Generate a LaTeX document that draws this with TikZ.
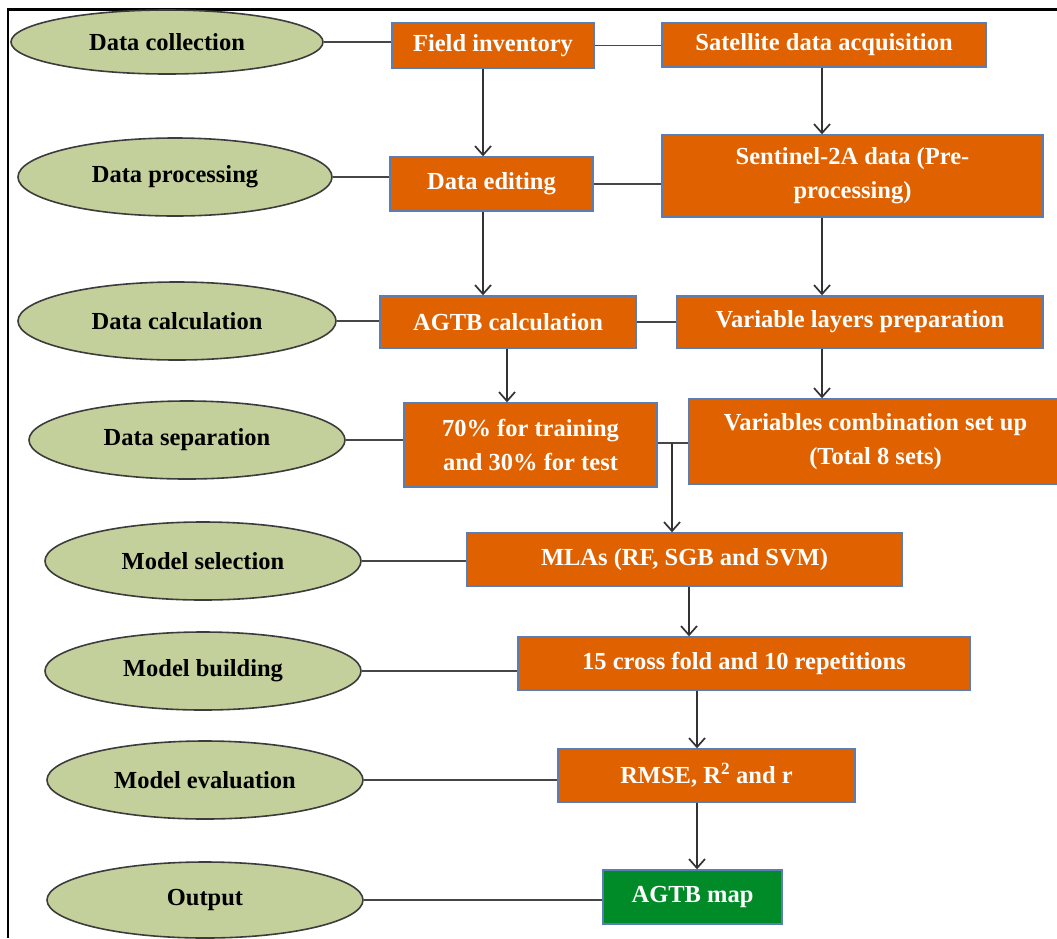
\documentclass[tikz,border=0pt]{standalone}
\usepackage{fontspec}
\setmainfont{Liberation Serif}
\usetikzlibrary{shapes.geometric,arrows.meta,calc}
\definecolor{boxorange}{RGB}{224,97,0}
\definecolor{boxborder}{RGB}{90,125,180}
\definecolor{ellfill}{RGB}{196,208,155}
\definecolor{ellborder}{RGB}{60,60,60}
\definecolor{boxgreen}{RGB}{0,138,40}
\definecolor{linegray}{RGB}{70,70,70}
\tikzset{
  stage/.style={ellipse, draw=ellborder, line width=1.6pt, fill=ellfill, inner sep=0pt,
    font=\bfseries\fontsize{24.5}{30}\selectfont, text=black},
  procbox/.style={rectangle, draw=boxborder, line width=1.4pt, fill=boxorange, inner sep=0pt,
    font=\bfseries\fontsize{24.5}{34}\selectfont, text=white, align=center},
  outbox/.style={procbox, fill=boxgreen},
  link/.style={draw=linegray, line width=1.7pt},
  arr/.style={draw=black!80, line width=1.7pt, -{Straight Barb[length=9pt,width=16pt,line width=1.7pt]}}
}
\begin{document}
\begin{tikzpicture}[x=1pt,y=-1pt]
\useasboundingbox (0,0) rectangle (1057,938);
% frame (top and left edges visible)
\draw[line width=2.2pt, black] (8,938) -- (8,9.5) -- (1057,9.5);

% stage ellipses
\node[stage, minimum width=312pt, minimum height=64pt] (E1) at (167,42) {Data collection};
\node[stage, minimum width=314pt, minimum height=78pt] (E2) at (175,177) {Data processing};
\node[stage, minimum width=318pt, minimum height=78pt] (E3) at (177,321) {Data calculation};
\node[stage, minimum width=316pt, minimum height=78pt] (E4) at (187,440) {Data separation};
\node[stage, minimum width=316pt, minimum height=78pt] (E5) at (203,561) {Model selection};
\node[stage, minimum width=316pt, minimum height=78pt] (E6) at (203,671) {Model building};
\node[stage, minimum width=316pt, minimum height=78pt] (E7) at (205,780) {Model evaluation};
\node[stage, minimum width=316pt, minimum height=76pt] (E8) at (205,900) {Output};

% process boxes
\node[procbox, minimum width=202pt, minimum height=45pt] (B1) at (493,45.5) {Field inventory};
\node[procbox, minimum width=324pt, minimum height=44pt] (B2) at (824,45) {Satellite data acquisition};
\node[procbox, minimum width=203pt, minimum height=54pt] (B3) at (491.5,184) {Data editing};
\node[procbox, minimum width=381pt, minimum height=82pt] (B4) at (852.5,176) {Sentinel-2A data (Pre-\\processing)};
\node[procbox, minimum width=256pt, minimum height=52pt] (B5) at (508,322) {AGTB calculation};
\node[procbox, minimum width=366pt, minimum height=52pt] (B6) at (860,322) {Variable layers preparation};
\node[procbox, minimum width=253pt, minimum height=84pt] (B7) at (530.5,445) {70\% for training\\and 30\% for test};
\node[procbox, minimum width=373pt, minimum height=85pt] (B8) at (875.5,441.5) {Variables combination set up\\(Total 8 sets)};
\node[procbox, minimum width=435pt, minimum height=53pt] (B9) at (684.5,559.5) {MLAs (RF, SGB and SVM)};
\node[procbox, minimum width=452pt, minimum height=53pt] (B10) at (744,663.5) {15 cross fold and 10 repetitions};
\node[procbox, minimum width=297pt, minimum height=53pt] (B11) at (706.5,775.5) {RMSE, R\textsuperscript{2} and r};
\node[outbox, minimum width=179pt, minimum height=54pt] (B12) at (692.5,897) {AGTB map};

% stage-to-box links
\draw[link] (E1.east) -- (E1.east -| B1.west);
\draw[link] (E2.east) -- (E2.east -| B3.west);
\draw[link] (E3.east) -- (E3.east -| B5.west);
\draw[link] (E4.east) -- (E4.east -| B7.west);
\draw[link] (E5.east) -- (E5.east -| B9.west);
\draw[link] (E6.east) -- (E6.east -| B10.west);
\draw[link] (E7.east) -- (E7.east -| B11.west);
\draw[link] (E8.east) -- (E8.east -| B12.west);

% box-to-box links
\draw[link] (B1.east) -- (B1.east -| B2.west);
\draw[link] (B3.east) -- (B3.east -| B4.west);
\draw[link] (B5.east) -- (B5.east -| B6.west);
\coordinate (J) at (672,443);
\draw[link] (B7.east |- J) -- (B8.west |- J);

% arrows
\coordinate (xL1) at (483,0);
\coordinate (xR) at (822,0);
\coordinate (xL2) at (507,0);
\coordinate (xM1) at (689,0);
\coordinate (xM2) at (697,0);
\draw[arr] (B1.south -| xL1) -- (B3.north -| xL1);
\draw[arr] (B3.south -| xL1) -- (B5.north -| xL1);
\draw[arr] (B5.south -| xL2) -- (B7.north -| xL2);
\draw[arr] (B2.south -| xR) -- (B4.north -| xR);
\draw[arr] (B4.south -| xR) -- (B6.north -| xR);
\draw[arr] (B6.south -| xR) -- (B8.north -| xR);
\draw[arr] (J) -- (B9.north -| J);
\draw[arr] (B9.south -| xM1) -- (B10.north -| xM1);
\draw[arr] (B10.south -| xM2) -- (B11.north -| xM2);
\draw[arr] (B11.south -| xM2) -- (B12.north -| xM2);
\end{tikzpicture}
\end{document}
